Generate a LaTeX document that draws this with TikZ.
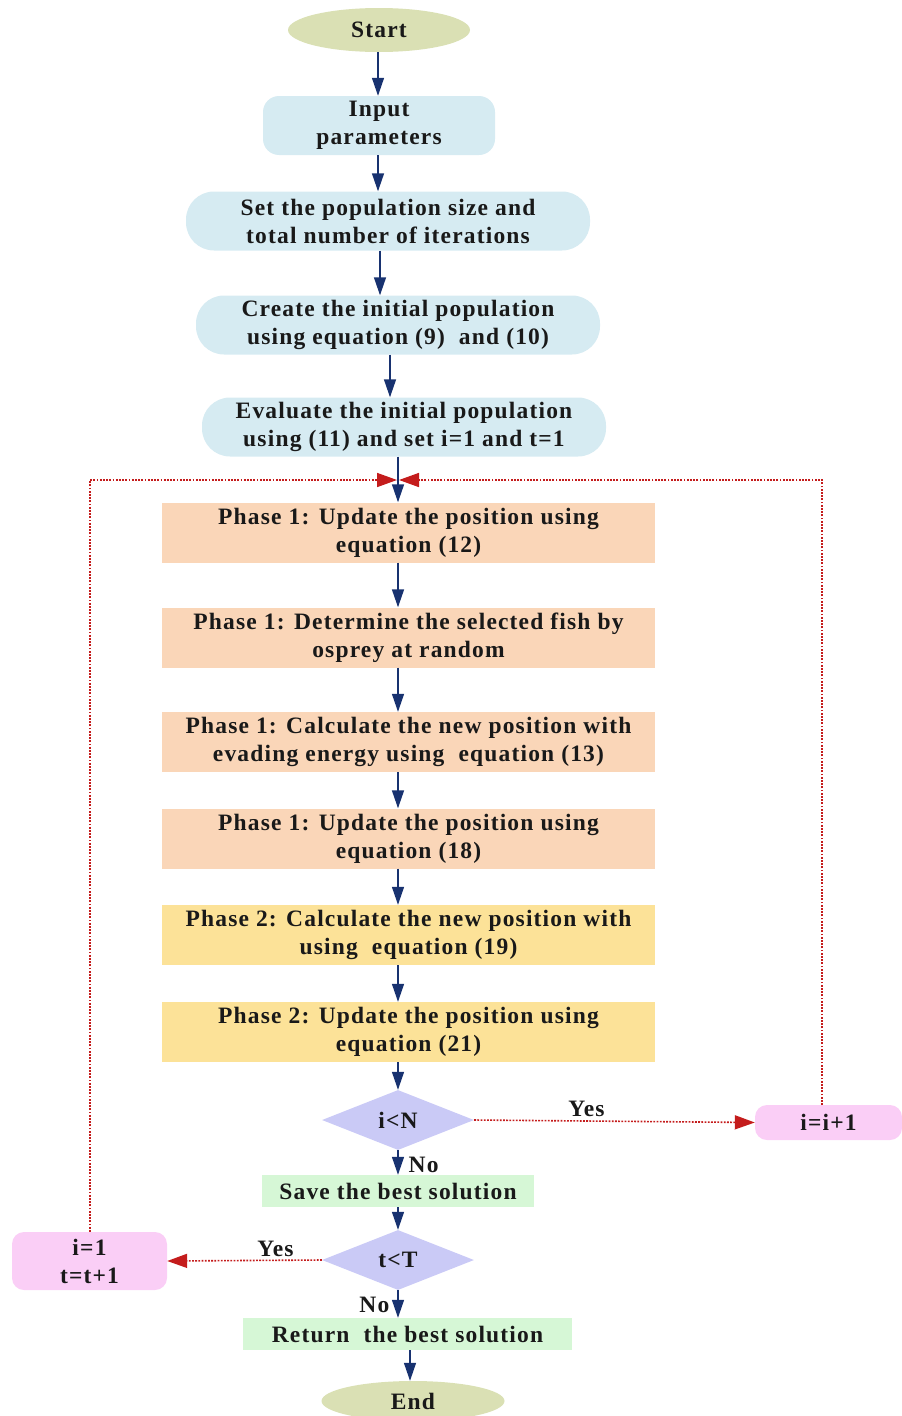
\documentclass[tikz,border=0pt]{standalone}
\usepackage{fontspec}
\setmainfont{Liberation Serif}[LetterSpace=5]
\usetikzlibrary{shapes.geometric,arrows.meta,calc}
\definecolor{navy}{RGB}{24,50,112}
\definecolor{loopred}{RGB}{196,28,28}
\definecolor{termfill}{RGB}{218,224,180}
\definecolor{bluefill}{RGB}{214,235,242}
\definecolor{orangefill}{RGB}{250,214,184}
\definecolor{yellowfill}{RGB}{252,226,152}
\definecolor{greenfill}{RGB}{214,247,214}
\definecolor{pinkfill}{RGB}{250,206,246}
\definecolor{decfill}{RGB}{202,202,246}
\begin{document}
\begin{tikzpicture}[x=1pt,y=-1pt,
  every node/.style={font=\fontsize{23.5}{28}\selectfont\bfseries, inner sep=0pt, align=center, text=black!90},
  term/.style={ellipse, fill=termfill, minimum width=182pt, minimum height=44pt},
  bluebox/.style={rectangle, rounded corners=22pt, fill=bluefill, minimum width=404pt, minimum height=59pt},
  phaseA/.style={rectangle, fill=orangefill, minimum width=493pt, minimum height=60pt},
  phaseB/.style={rectangle, fill=yellowfill, minimum width=493pt, minimum height=60pt},
  greenbox/.style={rectangle, fill=greenfill, minimum height=32pt},
  pinkbox/.style={rectangle, rounded corners=12pt, fill=pinkfill},
  decision/.style={diamond, aspect=2.53, fill=decfill, minimum width=152pt, minimum height=60pt},
  arr/.style={draw=navy, line width=1.4pt, -{Triangle[length=18pt,width=12pt,fill=navy]}},
  back/.style={draw=loopred, line width=1.6pt, dash pattern=on 1.8pt off 1.4pt, -{Triangle[length=20pt,width=14pt,fill=loopred,sep=0pt]}},
  lbl/.style={font=\fontsize{23.5}{26}\selectfont\bfseries}
]
\useasboundingbox (0,0) rectangle (902,1416);

\node[term] (start) at (379,30) {Start};
\node[bluebox, minimum width=232pt, rounded corners=16pt] (input) at (379,125.5) {Input\\parameters};
\node[bluebox, rounded corners=28pt] (set) at (388,221) {Set the population size and\\total number of iterations};
\node[bluebox, rounded corners=28pt] (create) at (398,325) {Create the initial population\\using equation (9)\ \ and (10)};
\node[bluebox, rounded corners=28pt] (eval) at (404,427) {Evaluate the initial population\\using (11) and set i=1 and t=1};

\node[phaseA] (p1) at (408.5,532.5) {Phase 1: Update the position using\\equation (12)};
\node[phaseA] (p2) at (408.5,637.5) {Phase 1: Determine the selected fish by\\osprey at random};
\node[phaseA] (p3) at (408.5,742) {Phase 1: Calculate the new position with\\evading energy using\ \ equation (13)};
\node[phaseA] (p4) at (408.5,838.5) {Phase 1: Update the position using\\equation (18)};
\node[phaseB] (p5) at (408.5,935) {Phase 2: Calculate the new position with\\using\ \ equation (19)};
\node[phaseB] (p6) at (408.5,1032) {Phase 2: Update the position using\\equation (21)};

\node[decision] (dN) at (398,1120) {i\textless N};
\node[pinkbox, minimum width=147pt, minimum height=35pt] (inc) at (828.5,1122.5) {i=i+1};
\node[greenbox, minimum width=272pt] (save) at (398,1191) {Save the best solution};
\node[decision] (dT) at (398,1260) {t\textless T};
\node[pinkbox, minimum width=155pt, minimum height=58pt] (reset) at (89.5,1261) {i=1\\t=t+1};
\node[greenbox, minimum width=329pt] (ret) at (407.5,1334) {Return\ \ the best solution};
\node[term, minimum width=183pt, minimum height=40pt] (end) at (413,1401) {End};

\coordinate (c378) at (378,0);
\coordinate (c380) at (380,0);
\coordinate (c390) at (390,0);
\coordinate (c398) at (398,0);
\coordinate (c410) at (410,0);
\coordinate (joinR) at (399,480);
\coordinate (joinL) at (397,480);
\coordinate (incTop) at (822,1105);
\coordinate (cornerR) at (822,480);
\coordinate (cornerL) at (90,480);

\draw[arr] (start.south -| c378) -- (input.north -| c378);
\draw[arr] (input.south -| c378) -- (set.north -| c378);
\draw[arr] (set.south -| c380) -- (create.north -| c380);
\draw[arr] (create.south -| c390) -- (eval.north -| c390);
\draw[arr] (p1.south -| c398) -- (p2.north -| c398);
\draw[arr] (p2.south -| c398) -- (p3.north -| c398);
\draw[arr] (p3.south -| c398) -- (p4.north -| c398);
\draw[arr] (p4.south -| c398) -- (p5.north -| c398);
\draw[arr] (p5.south -| c398) -- (p6.north -| c398);
\draw[arr] (p6.south -| c398) -- (dN.north);
\draw[arr] (dN.south) -- node[lbl, right=10pt, pos=0.6] (no1) {No} (save.north);
\draw[arr] (save.south) -- (dT.north);
\draw[arr] (dT.south) -- node[lbl, left=8pt, pos=0.55] (no2) {No} (ret.north -| dT.south);
\draw[arr] (ret.south -| c410) -- (end.north -| c410);

\draw[back] (dN.east) -- node[lbl, above=3pt, pos=0.4] (yes1) {Yes} (inc.west);
\draw[back] (dT.west) -- node[lbl, above=3pt, pos=0.3] (yes2) {Yes} (reset.east);

\draw[back] (incTop) -- (cornerR) -- (joinR);
\draw[back] (reset.north -| cornerL) -- (cornerL) -- (joinL);
\draw[arr] (eval.south -| c398) -- (p1.north -| c398);
\end{tikzpicture}
\end{document}
